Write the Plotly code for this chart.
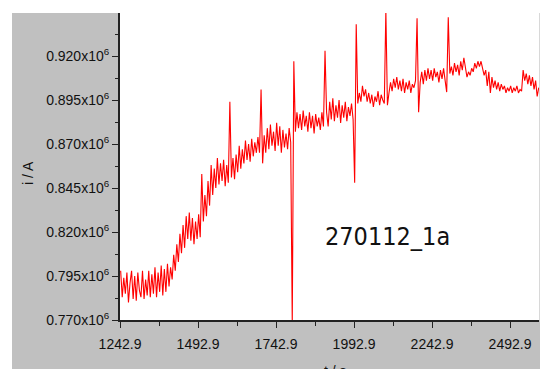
import plotly.graph_objects as go

# Chronoamperometry trace, run 270112_1a
time_s = [
    1245, 1250, 1255, 1260, 1265, 1270, 1275, 1280, 1285, 1290,
    1295, 1300, 1305, 1310, 1315, 1320, 1325, 1330, 1335, 1340,
    1345, 1350, 1355, 1360, 1365, 1370, 1375, 1380, 1385, 1390,
    1395, 1400, 1405, 1410, 1415, 1420, 1425, 1430, 1435, 1440,
    1445, 1450, 1455, 1460, 1465, 1470, 1475, 1480, 1485, 1490,
    1495, 1500, 1505, 1510, 1515, 1520, 1525, 1530, 1535, 1540,
    1545, 1550, 1555, 1560, 1565, 1570, 1575, 1580, 1585, 1590,
    1595, 1600, 1605, 1610, 1615, 1620, 1625, 1630, 1635, 1640,
    1645, 1650, 1655, 1660, 1665, 1670, 1675, 1680, 1685, 1690,
    1695, 1700, 1705, 1710, 1715, 1720, 1725, 1730, 1735, 1740,
    1745, 1750, 1755, 1760, 1765, 1770, 1775, 1780, 1785, 1790,
    1795, 1800, 1805, 1810, 1815, 1820, 1825, 1830, 1835, 1840,
    1845, 1850, 1855, 1860, 1865, 1870, 1875, 1880, 1885, 1890,
    1895, 1900, 1905, 1910, 1915, 1920, 1925, 1930, 1935, 1940,
    1945, 1950, 1955, 1960, 1965, 1970, 1975, 1980, 1985, 1990,
    1995, 2000, 2005, 2010, 2015, 2020, 2025, 2030, 2035, 2040,
    2045, 2050, 2055, 2060, 2065, 2070, 2075, 2080, 2085, 2090,
    2095, 2100, 2105, 2110, 2115, 2120, 2125, 2130, 2135, 2140,
    2145, 2150, 2155, 2160, 2165, 2170, 2175, 2180, 2185, 2190,
    2195, 2200, 2205, 2210, 2215, 2220, 2225, 2230, 2235, 2240,
    2245, 2250, 2255, 2260, 2265, 2270, 2275, 2280, 2285, 2290,
    2295, 2300, 2305, 2310, 2315, 2320, 2325, 2330, 2335, 2340,
    2345, 2350, 2355, 2360, 2365, 2370, 2375, 2380, 2385, 2390,
    2395, 2400, 2405, 2410, 2415, 2420, 2425, 2430, 2435, 2440,
    2445, 2450, 2455, 2460, 2465, 2470, 2475, 2480, 2485, 2490,
    2495, 2500, 2505, 2510, 2515, 2520, 2525, 2530, 2535, 2540,
    2545, 2550, 2555, 2560, 2565, 2570, 2575, 2580, 2585,
]

# current in units of 10^6 A
current_e6 = [
    0.798, 0.783, 0.794, 0.785, 0.797, 0.780, 0.791, 0.798, 0.782, 0.795,
    0.781, 0.797, 0.787, 0.783, 0.798, 0.782, 0.793, 0.784, 0.798, 0.783,
    0.796, 0.785, 0.800, 0.783, 0.797, 0.786, 0.801, 0.784, 0.799, 0.786,
    0.802, 0.789, 0.800, 0.793, 0.807, 0.798, 0.813, 0.803, 0.819, 0.808,
    0.824, 0.811, 0.829, 0.816, 0.831, 0.815, 0.828, 0.813, 0.826, 0.816,
    0.830, 0.817, 0.853, 0.826, 0.841, 0.829, 0.849, 0.835, 0.858, 0.841,
    0.856, 0.845, 0.862, 0.847, 0.859, 0.849, 0.861, 0.846, 0.858, 0.848,
    0.894, 0.851, 0.862, 0.850, 0.864, 0.854, 0.869, 0.856, 0.867, 0.859,
    0.872, 0.861, 0.870, 0.860, 0.873, 0.863, 0.871, 0.865, 0.874, 0.865,
    0.901, 0.859, 0.875, 0.865, 0.879, 0.867, 0.881, 0.869, 0.877, 0.866,
    0.882, 0.869, 0.880, 0.865, 0.878, 0.868, 0.876, 0.867, 0.879, 0.871,
    0.768, 0.917, 0.877, 0.888, 0.879, 0.887, 0.878, 0.889, 0.880, 0.886,
    0.877, 0.888, 0.879, 0.886, 0.876, 0.887, 0.880, 0.885, 0.878, 0.888,
    0.880, 0.923, 0.888, 0.880, 0.894, 0.884, 0.896, 0.883, 0.892, 0.885,
    0.895, 0.882, 0.892, 0.885, 0.894, 0.883, 0.891, 0.886, 0.893, 0.884,
    0.848, 0.938, 0.893, 0.899, 0.894, 0.903, 0.897, 0.901, 0.894, 0.899,
    0.893, 0.898, 0.891, 0.897, 0.894, 0.900, 0.892, 0.898, 0.895, 0.893,
    0.946, 0.892, 0.899, 0.905, 0.900, 0.907, 0.902, 0.908, 0.901, 0.906,
    0.900, 0.907, 0.899, 0.905, 0.901, 0.906, 0.899, 0.904, 0.902, 0.906,
    0.9415, 0.888, 0.905, 0.911, 0.904, 0.912, 0.906, 0.913, 0.907, 0.912,
    0.906, 0.913, 0.908, 0.911, 0.905, 0.912, 0.907, 0.913, 0.906, 0.8995,
    0.942, 0.910, 0.914, 0.909, 0.916, 0.911, 0.915, 0.909, 0.917, 0.912,
    0.919, 0.912, 0.908, 0.911, 0.909, 0.913, 0.911, 0.916, 0.913, 0.917,
    0.914, 0.917, 0.913, 0.909, 0.912, 0.903, 0.911, 0.899, 0.908, 0.902,
    0.906, 0.901, 0.905, 0.900, 0.904, 0.901, 0.903, 0.899, 0.902, 0.900,
    0.903, 0.899, 0.902, 0.900, 0.903, 0.899, 0.901, 0.900, 0.912, 0.906,
    0.910, 0.904, 0.909, 0.903, 0.908, 0.901, 0.906, 0.897, 0.902,
]

y_ticks = [0.770, 0.795, 0.820, 0.845, 0.870, 0.895, 0.920]
y_minor = [0.7825, 0.8075, 0.8325, 0.8575, 0.8825, 0.9075, 0.9325]
y_labels = [f"{v:.3f}x10<sup>6</sup>" for v in y_ticks]

W, H = 540, 369
M_L, M_R, M_T, M_B = 120, 1, 13, 49
pw = W - M_L - M_R
ph = H - M_T - M_B

def px_x(p):
    return (p - M_L) / pw

def px_y(p):
    return (H - M_B - p) / ph

axis_font = dict(family="Liberation Sans, Arial, sans-serif", size=14, color="#111111")
grey = "#c0c0c0"

fig = go.Figure()
fig.add_trace(go.Scatter(
    x=time_s, y=current_e6, mode="lines",
    line=dict(color="#ff0000", width=1.1),
    showlegend=False, hoverinfo="skip",
))

fig.update_layout(
    width=W, height=H,
    margin=dict(l=M_L, r=M_R, t=M_T, b=M_B, pad=0),
    paper_bgcolor="white", plot_bgcolor="white",
    font=axis_font,
    shapes=[
        # grey window frame around the white plotting area
        dict(type="rect", xref="paper", yref="paper", layer="below",
             x0=px_x(12), x1=0, y0=px_y(H + 20), y1=1,
             fillcolor=grey, line=dict(width=0)),
        dict(type="rect", xref="paper", yref="paper", layer="below",
             x0=px_x(12), x1=px_x(W + 5), y0=px_y(H + 20), y1=0,
             fillcolor=grey, line=dict(width=0)),
        dict(type="rect", xref="paper", yref="paper", layer="below",
             x0=1, x1=px_x(W + 5), y0=0, y1=1,
             fillcolor="#d8d8d8", line=dict(width=0)),
    ],
    xaxis=dict(
        range=[1242.9, 1242.9 + pw * 250 / 78],
        automargin=False,
        tickmode="linear", tick0=1242.9, dtick=250, tickformat=".1f",
        ticks="outside", ticklen=6, tickwidth=1, tickcolor="#222222",
        minor=dict(ticks="outside", ticklen=4, tickwidth=1, tickcolor="#222222",
                   dtick=125, tick0=1242.9 - 125),
        showline=True, linecolor="#222222", linewidth=2,
        showgrid=False, zeroline=False,
        ticklabelstandoff=4,
        tickfont=axis_font,
    ),
    yaxis=dict(
        range=[0.770, 0.770 + ph * 0.025 / 44],
        automargin=False,
        tickmode="array", tickvals=y_ticks, ticktext=y_labels,
        ticks="outside", ticklen=6, tickwidth=1, tickcolor="#222222",
        minor=dict(ticks="outside", ticklen=3, tickwidth=1, tickcolor="#222222",
                   tickmode="array", tickvals=y_minor),
        showline=True, linecolor="#222222", linewidth=2,
        showgrid=False, zeroline=False,
        tickfont=axis_font,
    ),
    annotations=[
        # axis titles
        dict(text="t / s", x=px_x(335), y=px_y(361), xref="paper", yref="paper",
             showarrow=False, xanchor="center", yanchor="top", font=axis_font),
        dict(text="i / A", x=px_x(28), y=px_y(173), xref="paper", yref="paper",
             showarrow=False, xanchor="center", yanchor="middle", textangle=-90,
             font=axis_font),
        # run label
        dict(text="270112_1a", x=1893.5, y=0.8173, xref="x", yref="y",
             showarrow=False, xanchor="left", yanchor="middle",
             font=dict(family="DejaVu Sans Condensed, DejaVu Sans", size=25,
                       color="#111111")),
    ],
)

fig.write_html("out.html")
